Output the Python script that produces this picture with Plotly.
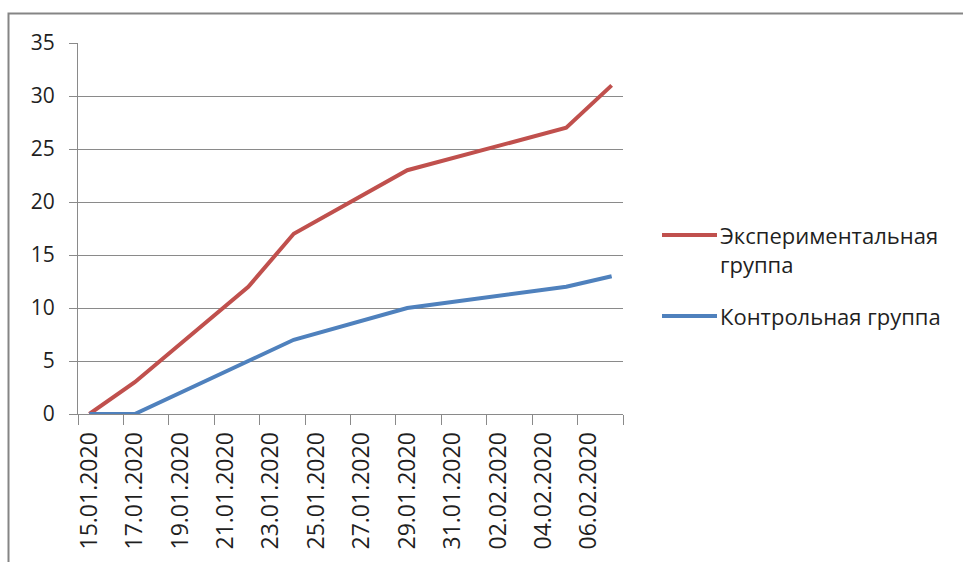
import plotly.graph_objects as go

# Observation dates and cumulative counts for both groups
dates = ["2020-01-15", "2020-01-17", "2020-01-22", "2020-01-24",
         "2020-01-29", "2020-02-05", "2020-02-07"]
experimental = [0, 3, 12, 17, 23, 27, 31]
control = [0, 0, 5, 7, 10, 12, 13]

series_names = ["Экспериментальная<br>группа", "Контрольная группа"]
series_colors = ["#C0504D", "#4F81BD"]

label_days = ["2020-01-15", "2020-01-17", "2020-01-19", "2020-01-21",
              "2020-01-23", "2020-01-25", "2020-01-27", "2020-01-29",
              "2020-01-31", "2020-02-02", "2020-02-04", "2020-02-06"]
y_ticks = [0, 5, 10, 15, 20, 25, 30, 35]

W, H = 963, 562
L, R, T, B = 78, 340, 43, 148
PW, PH = W - L - R, H - T - B


def to_px(x):
    return (x - L) / PW


def to_py(y):
    return (H - B - y) / PH


FONT = "Open Sans, Lato, sans-serif"
GRID = "#8a8a8a"

fig = go.Figure()
for name, ys, col in zip(series_names, [experimental, control], series_colors):
    fig.add_trace(go.Scatter(
        x=dates, y=ys, mode="lines", name=name.replace("<br>", " "),
        line=dict(color=col, width=4), showlegend=False,
        hoverinfo="x+y",
    ))

# Legend drawn beside the plot: a line sample and the series name
legend_rows = [(235, 0), (316, 1)]
shapes = []
annotations = []
for yc, i in legend_rows:
    shapes.append(dict(type="line", xref="paper", yref="paper",
                       x0=to_px(662), x1=to_px(717), y0=to_py(yc), y1=to_py(yc),
                       line=dict(color=series_colors[i], width=4)))
    annotations.append(dict(xref="paper", yref="paper", x=to_px(718),
                            y=to_py(yc - 17), xanchor="left", yanchor="top",
                            align="left", showarrow=False,
                            text=series_names[i],
                            font=dict(family=FONT, size=22, color="#1f1f1f")))

# Outer chart frame (top and left edges)
shapes.append(dict(type="path", xref="paper", yref="paper",
                   path=f"M {to_px(8.5)},{to_py(600)} L {to_px(8.5)},{to_py(13.5)} L {to_px(1000)},{to_py(13.5)}",
                   line=dict(color="#858585", width=2)))

fig.update_layout(
    width=W, height=H,
    margin=dict(l=L, r=R, t=T, b=B),
    paper_bgcolor="white", plot_bgcolor="white",
    shapes=shapes, annotations=annotations,
    xaxis=dict(
        type="date",
        range=["2020-01-14 12:00", "2020-02-07 12:00"],
        tickmode="array", tickvals=label_days, tickformat="%d.%m.%Y",
        tickangle=-90, ticks="", showgrid=False,
        tickfont=dict(family=FONT, size=23, color="#1f1f1f"),
        ticklabelstandoff=8,
        minor=dict(ticks="outside", ticklen=10, tickcolor=GRID, tickwidth=1,
                   tickmode="linear", tick0="2020-01-14 12:00",
                   dtick=2 * 86400000, showgrid=False),
        showline=True, linecolor=GRID, linewidth=1,
    ),
    yaxis=dict(
        range=[0, 35], tickmode="array", tickvals=y_ticks,
        ticks="outside", ticklen=8, tickcolor=GRID, tickwidth=1,
        showgrid=True, gridcolor=GRID, gridwidth=1, zeroline=False,
        showline=True, linecolor=GRID, linewidth=1,
        tickfont=dict(family=FONT, size=21, color="#1f1f1f"),
        ticklabelstandoff=10,
    ),
)

fig.write_html("out.html")
